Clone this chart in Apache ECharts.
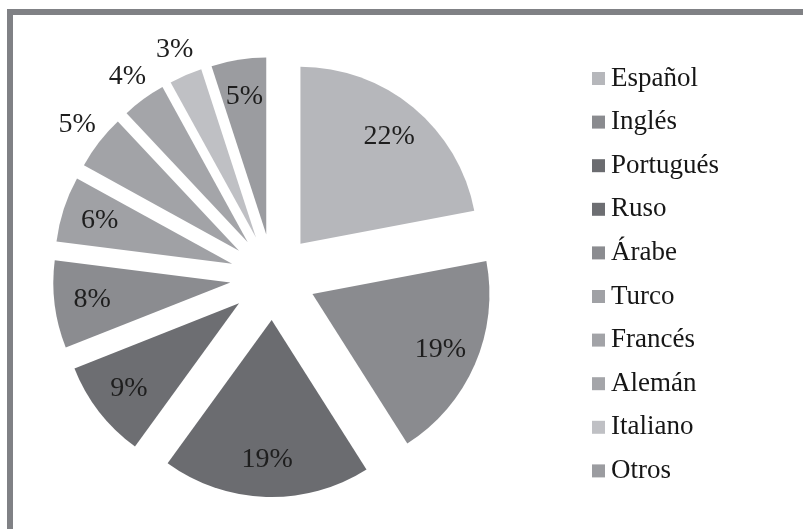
<!DOCTYPE html>
<html>
<head>
<meta charset="utf-8">
<script src="https://cdn.jsdelivr.net/npm/echarts@6/dist/echarts.min.js"></script>
<style>
  html, body { margin: 0; padding: 0; background: #ffffff; }
  #chart { width: 803px; height: 529px; }
</style>
</head>
<body>
<div id="chart"></div>
<script>
// Languages and their share (%)
const categories = ['Español', 'Inglés', 'Portugués', 'Ruso', 'Árabe', 'Turco', 'Francés', 'Alemán', 'Italiano', 'Otros'];
const shares = [22, 19, 19, 9, 8, 6, 5, 4, 3, 5];
const colors = ['#b6b7bb', '#8a8b8f', '#6b6c70', '#6d6e72', '#8b8c90', '#a0a1a5', '#a2a3a7', '#a4a5a9', '#bfc0c4', '#9b9ca0'];
// Small slices whose percentage sits outside the pie
const labelOutside = [false, false, false, false, false, false, true, true, true, false];

const CENTER = [273, 277];
const RADIUS = 177;
const EXPLODE = 43;
const FONT = '"Liberation Serif", "Times New Roman", serif';

const chart = echarts.init(document.getElementById('chart'), null, { renderer: 'canvas' });

// Transparent copies of the pie used only to place the percentage labels
function labelLayer(id, radius, pick) {
  return {
    type: 'pie',
    id: id,
    center: CENTER,
    radius: [0, radius],
    startAngle: 90,
    clockwise: true,
    selectedMode: 'multiple',
    selectedOffset: EXPLODE,
    avoidLabelOverlap: false,
    silent: true,
    emphasis: { disabled: true },
    labelLine: { show: false },
    itemStyle: { color: 'rgba(0,0,0,0)', borderWidth: 0 },
    select: { itemStyle: { color: 'rgba(0,0,0,0)', borderWidth: 0 } },
    label: {
      position: 'inside',
      formatter: '{c}%',
      fontFamily: FONT,
      fontSize: 28,
      color: '#1e1e1e',
      padding: [10, 0, 0, 0]
    },
    data: categories.map((name, i) => ({
      name: name,
      value: shares[i],
      selected: true,
      label: { show: pick(i) }
    }))
  };
}

chart.setOption({
  animation: false,
  backgroundColor: '#ffffff',
  graphic: [
    { type: 'rect', shape: { x: 7, y: 9, width: 796, height: 6 }, style: { fill: '#808185' }, silent: true },
    { type: 'rect', shape: { x: 7, y: 9, width: 6, height: 520 }, style: { fill: '#808185' }, silent: true }
  ],
  legend: {
    orient: 'vertical',
    left: 592,
    top: 65,
    padding: 0,
    icon: 'rect',
    itemWidth: 13,
    itemHeight: 13,
    itemGap: 16.6,
    selectedMode: false,
    data: categories,
    textStyle: { fontFamily: FONT, fontSize: 27, color: '#161616', padding: [0, 0, 0, 1] }
  },
  series: [
    {
      type: 'pie',
      id: 'idiomas',
      center: CENTER,
      radius: RADIUS,
      startAngle: 90,
      clockwise: true,
      selectedMode: 'multiple',
      selectedOffset: EXPLODE,
      silent: true,
      emphasis: { disabled: true },
      label: { show: false },
      labelLine: { show: false },
      itemStyle: { borderWidth: 0 },
      data: categories.map((name, i) => ({
        name: name,
        value: shares[i],
        selected: true,
        itemStyle: { color: colors[i] },
        select: { itemStyle: { color: colors[i], borderWidth: 0 } }
      }))
    },
    labelLayer('etiquetas-dentro', RADIUS * 2 * 0.77, i => !labelOutside[i]),
    labelLayer('etiquetas-fuera', RADIUS * 2 * 1.14, i => labelOutside[i])
  ]
});
</script>
</body>
</html>
